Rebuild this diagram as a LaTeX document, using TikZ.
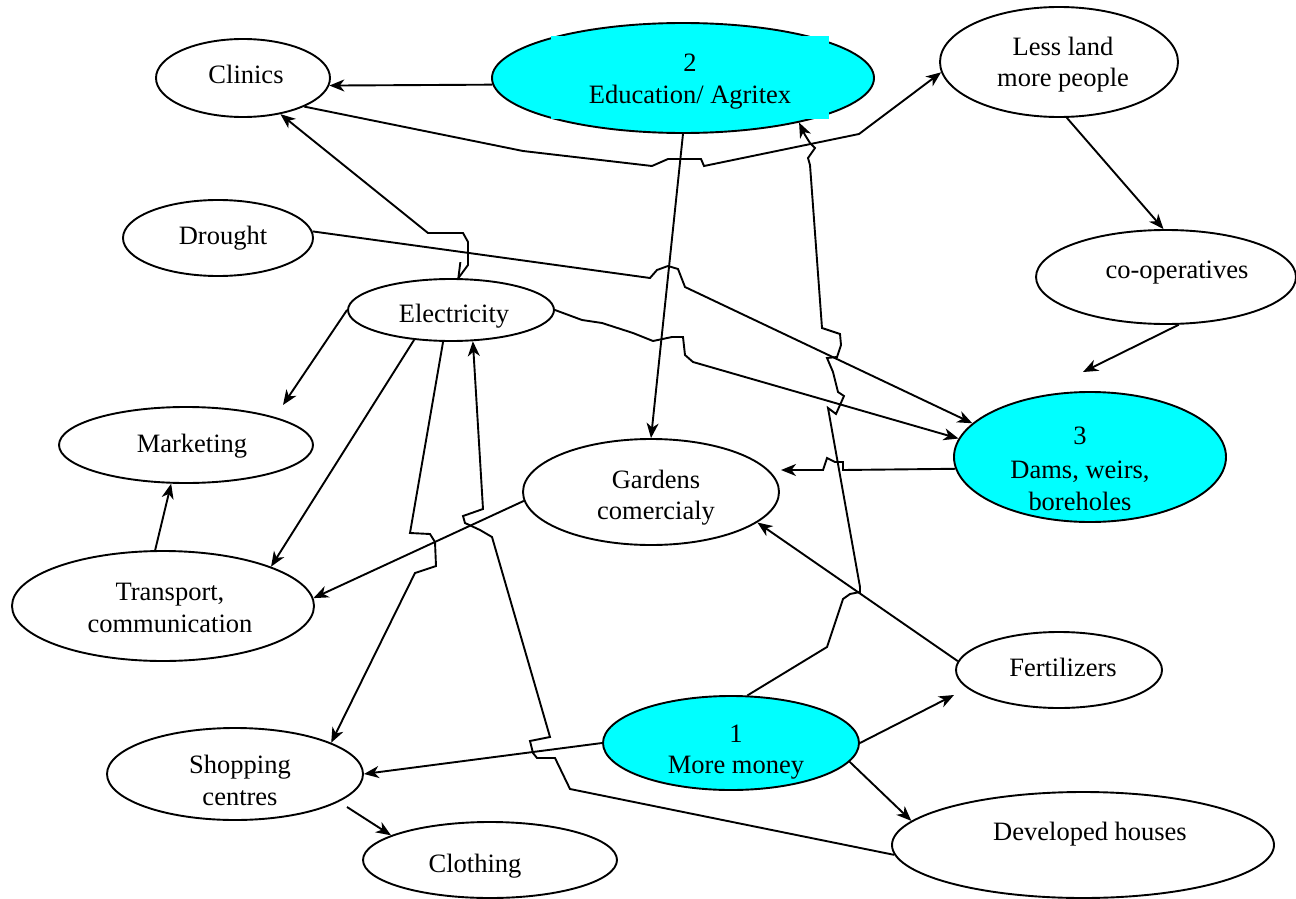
\documentclass[tikz,border=0pt]{standalone}
\usepackage{fontspec}
\setmainfont{Liberation Serif}
\usetikzlibrary{shapes.geometric,arrows.meta}
\definecolor{boxcyan}{HTML}{00FFFF}
\begin{document}
\begin{tikzpicture}[x=1pt,y=-1pt,
  ell/.style={ellipse, draw=black, inner sep=0pt, line width=1.9pt},
  hot/.style={ell, fill=boxcyan},
  txt/.style={anchor=base, inner sep=0pt, font=\fontsize{26.5}{32}\selectfont},
  con/.style={line width=1.9pt, line join=miter},
  arr/.style={con, -{Stealth[length=15pt,width=12pt,inset=4.5pt]}}]
\useasboundingbox (0,0) rectangle (1296,899);
% ellipses
\node[ell, minimum width=174pt, minimum height=78pt] (clin) at (243,78) {};
\node[hot, minimum width=382pt, minimum height=110pt] (edu) at (683,78) {};
\node[ell, minimum width=238pt, minimum height=110pt] (less) at (1059,62) {};
\node[ell, minimum width=260pt, minimum height=94pt] (coop) at (1166,277) {};
\node[ell, minimum width=190pt, minimum height=76pt] (drou) at (218,238) {};
\node[ell, minimum width=206pt, minimum height=62pt] (elec) at (451,310) {};
\node[ell, minimum width=254pt, minimum height=76pt] (mark) at (186,445) {};
\node[ell, minimum width=302pt, minimum height=110pt] (trans) at (163,606) {};
\node[ell, minimum width=256pt, minimum height=106pt] (gard) at (651,492) {};
\node[hot, minimum width=272pt, minimum height=130pt] (dams) at (1090,457) {};
\node[ell, minimum width=206pt, minimum height=76pt] (fert) at (1059,670) {};
\node[hot, minimum width=256pt, minimum height=94pt] (money) at (731,743) {};
\node[ell, minimum width=382pt, minimum height=106pt] (dev) at (1083,845) {};
\node[ell, minimum width=256pt, minimum height=92pt] (shop) at (235,774) {};
\node[ell, minimum width=254pt, minimum height=76pt] (cloth) at (490,860) {};
% cyan text box over Education
\fill[boxcyan] (551,36) rectangle (829,119);
% free ends
\coordinate (cdEnd) at (1083,372);
\coordinate (gardE) at (781,470);
\coordinate (fertIn) at (954,695);
\coordinate (shopOut) at (347,807);
\coordinate (markIn) at (283,405);
% connectors
\draw[arr] (edu.182.4) -- (clin.355);
\draw[arr] (clin.335) -- (523,151) -- (652,166) -- (668,159) -- (701,159) -- (704,166) -- (859,134) -- (less.185);
\draw[arr] (less.278) -- (coop.93.6);
\draw[arr] (coop.285) -- (cdEnd);
\draw[arr] (elec.77) -- (468,265) -- (468,242) -- (463,233) -- (428,233) -- (clin.316);
\draw[con] (elec.77) -- ++(2,-16);
\draw[arr] (drou.4.8) -- (650,278) -- (657,270) -- (668,266) -- (678,269) -- (685,287) -- (dams.164.4);
\draw[arr] (elec.east) -- (582,320) -- (602,323) -- (633,333) -- (653,341) -- (672,337) -- (683,337) -- (685,355) -- (693,362) -- (dams.172.5);
\draw[arr] (edu.south) -- (gard.north);
\draw[arr] (money.71.6) -- (827,647) -- (843,599) -- (850,594) -- (860,592) -- (860,587) -- (828,408) -- (836,414) -- (844,396) -- (838,392) -- (833,372) -- (827,358) -- (837,357) -- (841,345) -- (840,334) -- (822,328) -- (810,165) -- (808,158) -- (815,148) -- (810,143) -- (805,135) -- (edu.339.3);
\draw[arr] (dams.185.5) -- (843,470) -- (843,462) -- (835,462) -- (827,458) -- (823,470) -- (gardE);
\draw[arr] (fert.175.6) -- (gard.344.9);
\draw[arr] (money.east) -- (fertIn);
\draw[arr] (money.351.9) -- (dev.172.6);
\draw[arr] (money.west) -- (shop.east);
\draw[arr] (shopOut) -- (cloth.166.7);
\draw[arr] (trans.98.3) -- (mark.249);
\draw[arr] (elec.west) -- (markIn);
\draw[arr] (elec.219.5) -- (trans.20.85);
\draw[arr] (gard.184.9) -- (trans.3.4);
\draw[arr] (elec.256.4) -- (410,533) -- (430,534) -- (435,542) -- (436,566) -- (415,573) -- (shop.18.3);
\draw[arr] (dev.183) -- (570,789) -- (555,758) -- (537,758) -- (533,753) -- (530,741) -- (550,737) -- (492,537) -- (480,530) -- (465,523) -- (463,516) -- (483,509) -- (elec.305.5);
% texts
\node[txt] (t-clin) at (246,84) {Clinics};
\node[txt] (t-edu1) at (690,72) {2};
\node[txt] (t-edu2) at (690,103) {Education/ Agritex};
\node[txt] (t-less1) at (1063,56) {Less land};
\node[txt] (t-less2) at (1063,87) {more people};
\node[txt] (t-coop) at (1177,278) {co-operatives};
\node[txt] (t-drou) at (223,244) {Drought};
\node[txt] (t-elec) at (454,322) {Electricity};
\node[txt] (t-mark) at (192,452) {Marketing};
\node[txt] (t-tr1) at (170,600) {Transport,};
\node[txt] (t-tr2) at (170,632) {communication};
\node[txt] (t-gard1) at (656,488) {Gardens};
\node[txt] (t-gard2) at (656,519) {comercialy};
\node[txt] (t-dams1) at (1080,444) {3};
\node[txt] (t-dams2) at (1080,478) {Dams, weirs,};
\node[txt] (t-dams3) at (1080,510) {boreholes};
\node[txt] (t-fert) at (1063,676) {Fertilizers};
\node[txt] (t-mon1) at (736,742) {1};
\node[txt] (t-mon2) at (736,773) {More money};
\node[txt] (t-shop1) at (240,773) {Shopping};
\node[txt] (t-shop2) at (240,805) {centres};
\node[txt] (t-cloth) at (475,872) {Clothing};
\node[txt] (t-dev) at (1090,840) {Developed houses};
\end{tikzpicture}
\end{document}
